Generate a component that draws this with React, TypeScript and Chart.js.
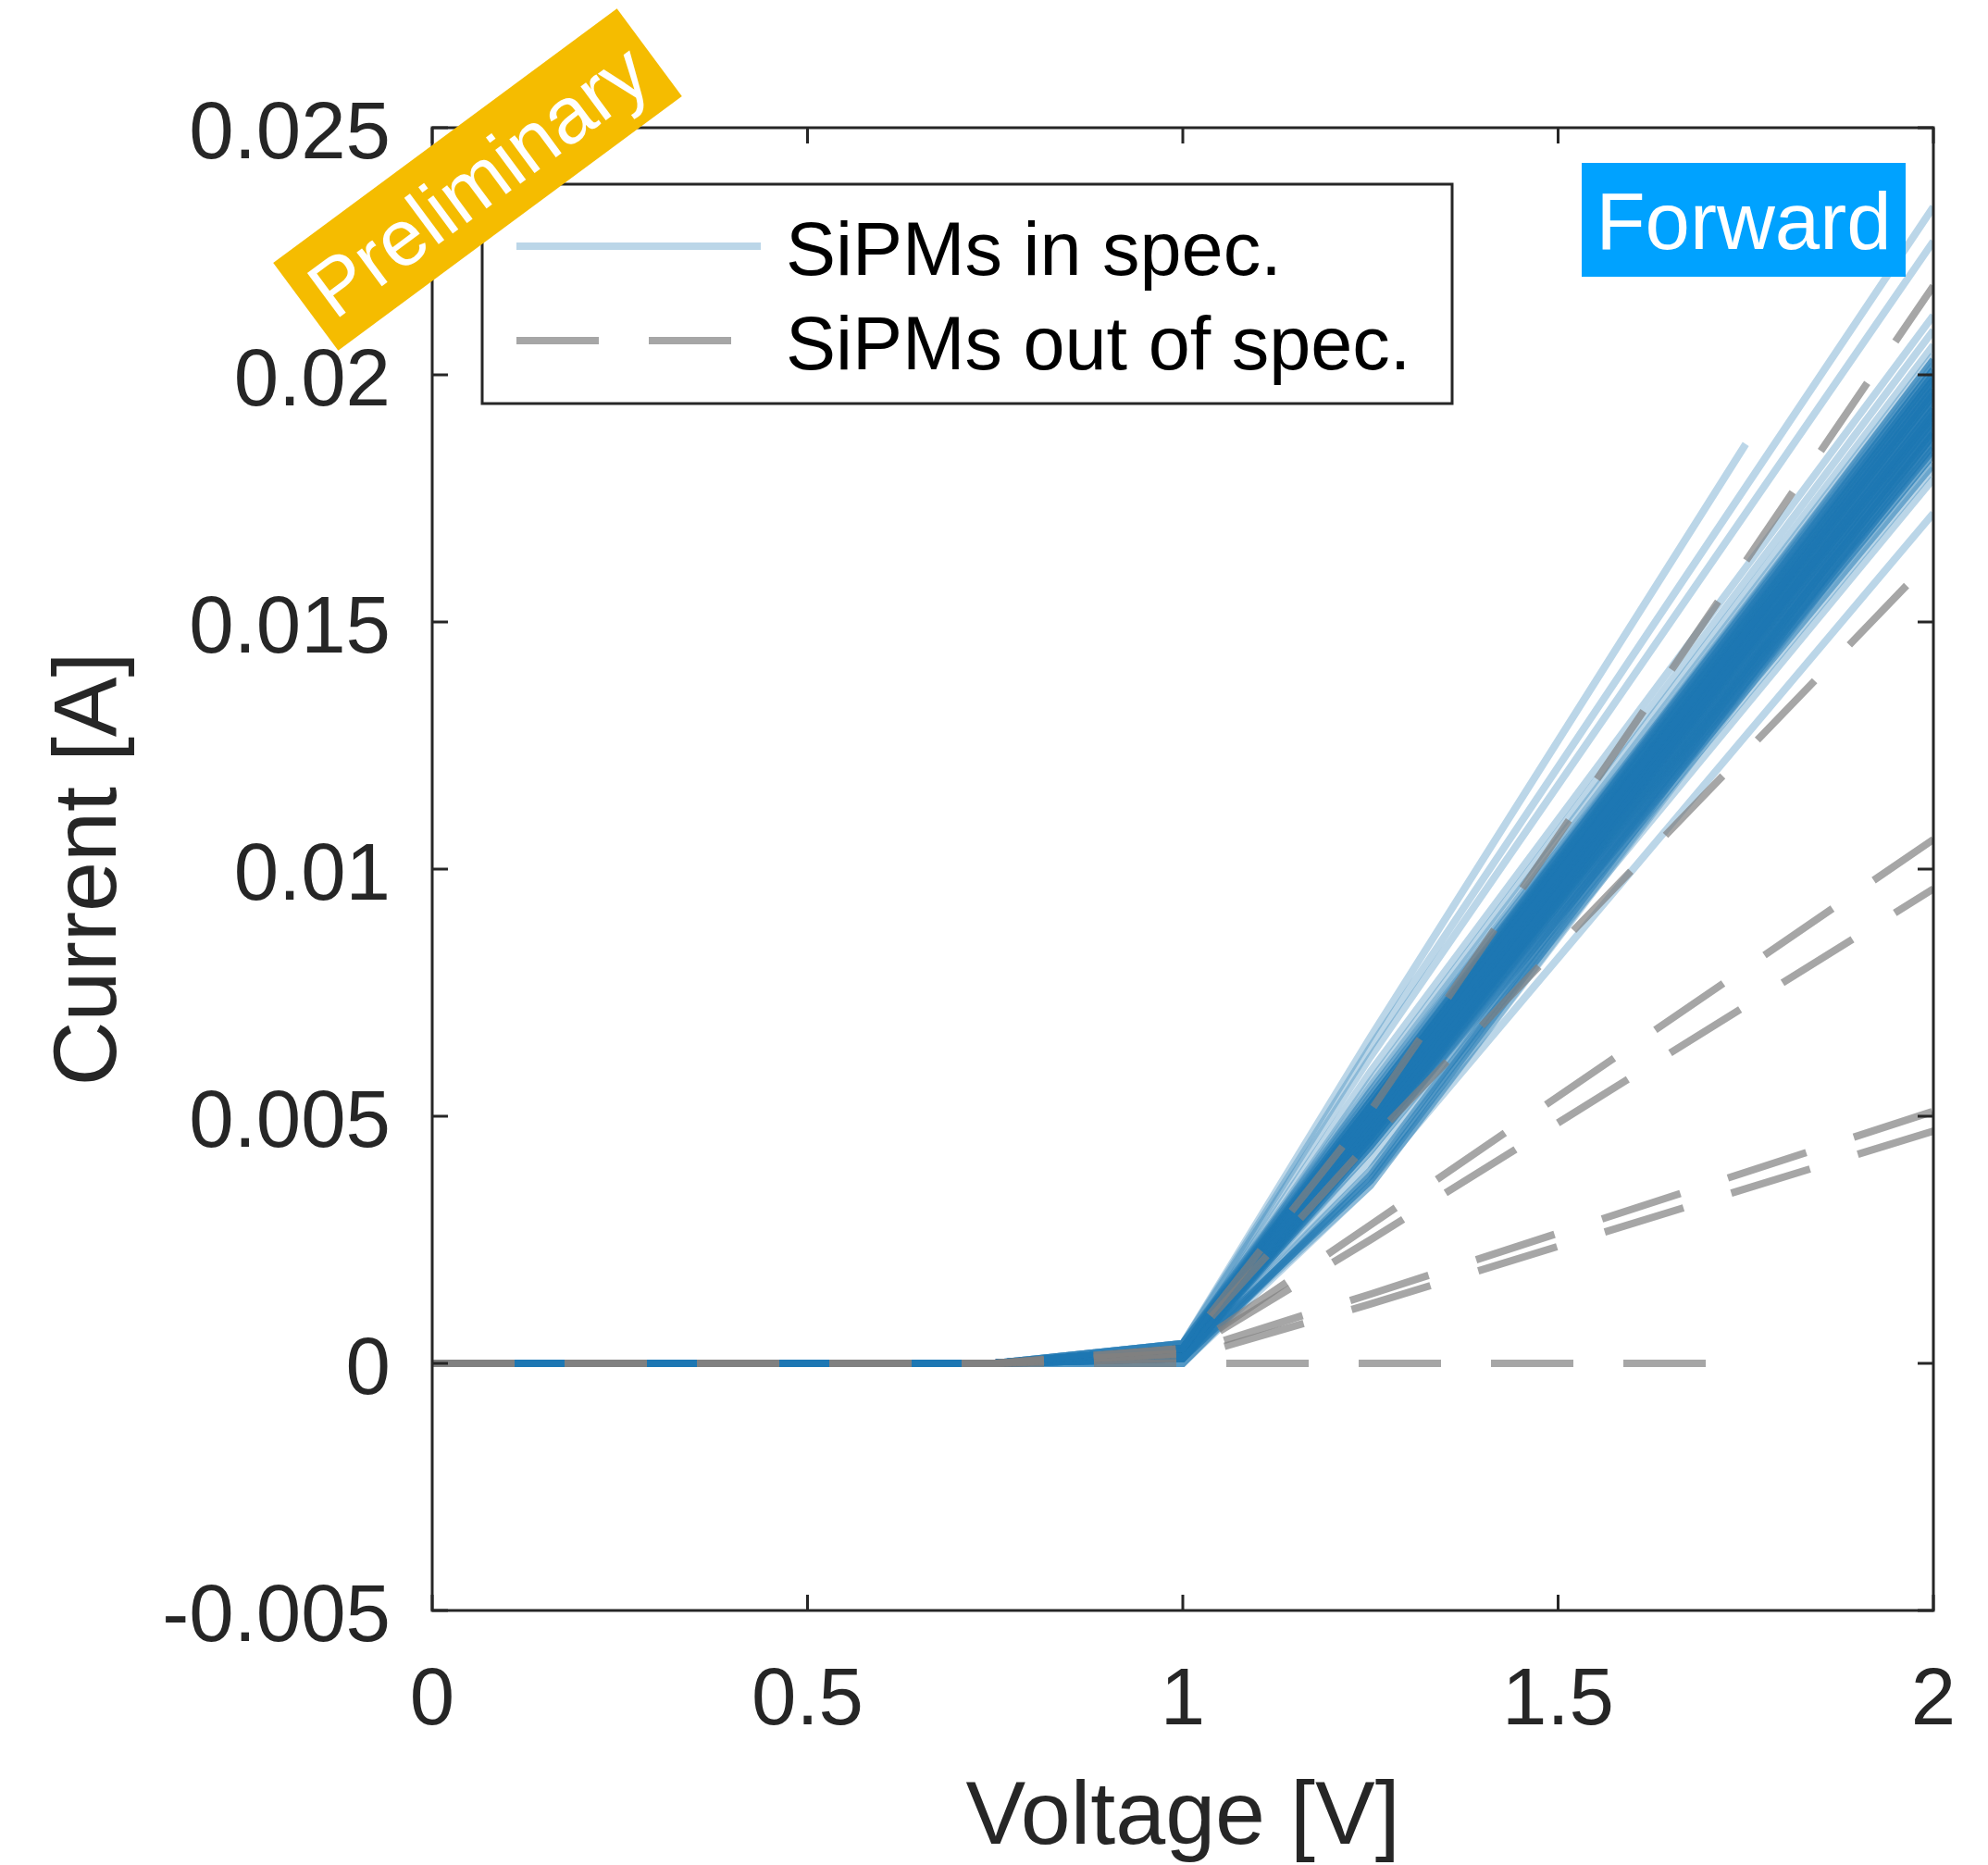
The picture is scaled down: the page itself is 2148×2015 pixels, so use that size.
import React, { useEffect, useRef } from 'react';
import { Chart, registerables } from 'chart.js';

Chart.register(...registerables);

// Sweep voltages [V]; every SiPM sits at 0 A up to 0.75 V.
const VOLTAGE = [0, 0.75, 1.0, 1.25, 2.0];
const VOLTAGE_TO_1V75 = [0, 0.75, 1.0, 1.25, 1.75];

// SiPMs in spec: forward current [A] at 1.00 V, 1.25 V and 2.00 V
const IN_SPEC_1V00 = [
  0.0004, 0.0004, 0.0003, 0.0003, 0.0003, 0.0001, 0.0002,
  0.0000, 0.0001, 0.0000, 0.0001, 0.0000, 0.0001, 0.0000, 0.0001,
  0.0004, 0.0004, 0.0003, 0.0004, 0.0003, 0.0003, 0.0003, 0.0004, 0.0003, 0.0003,
  0.0002, 0.0003, 0.0003, 0.0002, 0.0003, 0.0002, 0.0002, 0.0003, 0.0002, 0.0002,
  0.0002, 0.0003, 0.0002, 0.0002, 0.0001, 0.0002, 0.0002, 0.0001, 0.0002, 0.0001,
  0.0001, 0.0002, 0.0001, 0.0001, 0.0003, 0.0002, 0.0003, 0.0002, 0.0002, 0.0003,
  0.0002, 0.0002, 0.0001, 0.0002, 0.0003, 0.0003, 0.0002, 0.0002, 0.0001, 0.0002,
  0.0003, 0.0002, 0.0002, 0.0001, 0.0003, 0.0002,
  0.0003, 0.0002, 0.0003, 0.0002, 0.0003, 0.0002, 0.0002, 0.0003, 0.0002, 0.0003,
  0.0002, 0.0003, 0.0002, 0.0002, 0.0003, 0.0002, 0.0003, 0.0002, 0.0002, 0.0003,
  0.0002, 0.0002, 0.0003, 0.0002, 0.0003, 0.0002, 0.0002, 0.0003, 0.0002, 0.0002,
];
const IN_SPEC_1V25 = [
  0.0064, 0.0062, 0.0059, 0.0057, 0.0056, 0.0037, 0.0041,
  0.0038, 0.0037, 0.0036, 0.0039, 0.0038, 0.0036, 0.0039, 0.0037,
  0.0055, 0.0054, 0.0055, 0.0053, 0.0054, 0.0052, 0.0053, 0.0052, 0.0051, 0.0052,
  0.0050, 0.0051, 0.0050, 0.0049, 0.0050, 0.0049, 0.0048, 0.0049, 0.0048, 0.0047,
  0.0047, 0.0048, 0.0046, 0.0047, 0.0046, 0.0045, 0.0046, 0.0045, 0.0044, 0.0045,
  0.0044, 0.0043, 0.0043, 0.0044, 0.0051, 0.0049, 0.0050, 0.0048, 0.0047, 0.0049,
  0.0046, 0.0046, 0.0045, 0.0047, 0.0052, 0.0053, 0.0048, 0.0050, 0.0044, 0.0045,
  0.0051, 0.0049, 0.0047, 0.0046, 0.0052, 0.0048,
  0.0052, 0.0050, 0.0053, 0.0049, 0.0051, 0.0048, 0.0047, 0.0052, 0.0046, 0.0050,
  0.0049, 0.0051, 0.0047, 0.0048, 0.0053, 0.0046, 0.0050, 0.0049, 0.0048, 0.0051,
  0.0047, 0.0045, 0.0052, 0.0049, 0.0050, 0.0048, 0.0046, 0.0051, 0.0047, 0.0049,
];
const IN_SPEC_2V00 = [
  0.0234, 0.0227, 0.0212, 0.0209, 0.0206, 0.0172, 0.0179,
  0.0190, 0.0188, 0.0186, 0.0191, 0.0189, 0.0187, 0.0190, 0.0188,
  0.0204, 0.0203, 0.0201, 0.0203, 0.0200, 0.0201, 0.0199, 0.0200, 0.0197, 0.0199,
  0.0197, 0.0196, 0.0195, 0.0196, 0.0193, 0.0195, 0.0193, 0.0192, 0.0191, 0.0192,
  0.0189, 0.0191, 0.0188, 0.0189, 0.0186, 0.0188, 0.0185, 0.0186, 0.0184, 0.0185,
  0.0182, 0.0184, 0.0181, 0.0182, 0.0200, 0.0197, 0.0196, 0.0195, 0.0193, 0.0192,
  0.0191, 0.0189, 0.0188, 0.0186, 0.0203, 0.0201, 0.0196, 0.0199, 0.0185, 0.0184,
  0.0199, 0.0193, 0.0191, 0.0188, 0.0197, 0.0192,
  0.0200, 0.0197, 0.0201, 0.0195, 0.0198, 0.0194, 0.0192, 0.0199, 0.0190, 0.0196,
  0.0194, 0.0197, 0.0191, 0.0193, 0.0202, 0.0189, 0.0196, 0.0193, 0.0192, 0.0198,
  0.0190, 0.0187, 0.0199, 0.0195, 0.0197, 0.0193, 0.0188, 0.0198, 0.0191, 0.0194,
];
// In-spec SiPM whose sweep stops at 1.75 V
const IN_SPEC_SHORT = [0, 0, 0.0004, 0.0066, 0.0186];

// SiPMs out of spec: current [A] at 1.00 V, 1.25 V and 2.00 V
const OUT_SPEC_1V00 = [0.0003, 0.0003, 0.0002, 0.0002, 0.0002, 0.0001];
const OUT_SPEC_1V25 = [0.0051, 0.0045, 0.0028, 0.0025, 0.0014, 0.0012];
const OUT_SPEC_2V00 = [0.0218, 0.0163, 0.0106, 0.0096, 0.0051, 0.0047];
// Out-of-spec SiPM with no forward current, sweep stops at 1.75 V
const OUT_SPEC_SHORT = [0, 0, 0, 0, 0];

const X_TICKS = [0, 0.5, 1, 1.5, 2];
const X_TICK_LABELS = ['0', '0.5', '1', '1.5', '2'];
const Y_TICKS = [-0.005, 0, 0.005, 0.01, 0.015, 0.02, 0.025];
const Y_TICK_LABELS = ['-0.005', '0', '0.005', '0.01', '0.015', '0.02', '0.025'];

const X_TITLE = 'Voltage [V]';
const Y_TITLE = 'Current [A]';
const LEGEND_LABELS = ['SiPMs in spec.', 'SiPMs out of spec.'];
const TAG_TEXT = 'Forward';
const BADGE_TEXT = 'Preliminary';

const W = 2148;
const H = 2015;
const FONT = '"Liberation Sans", Arial, Helvetica, sans-serif';
const AXIS_COLOR = '#262626';
const IN_SPEC_COLOR = 'rgba(31, 119, 180, 0.3)';
const OUT_SPEC_COLOR = 'rgba(128, 128, 128, 0.7)';
const LINE_WIDTH = 8;
const DASH = [89, 54];
const TICK_LEN = 17;

function points(voltages: number[], currents: number[]) {
  return voltages.map((v, i) => ({ x: v, y: currents[i] }));
}

function buildDatasets() {
  const sets: any[] = [];
  const base = {
    borderWidth: LINE_WIDTH,
    pointRadius: 0,
    pointHoverRadius: 0,
    tension: 0,
    fill: false,
    clip: 0,
  };
  OUT_SPEC_2V00.forEach((end, i) => {
    sets.push({
      ...base,
      label: LEGEND_LABELS[1],
      data: points(VOLTAGE, [0, 0, OUT_SPEC_1V00[i], OUT_SPEC_1V25[i], end]),
      borderColor: OUT_SPEC_COLOR,
      borderDash: DASH,
      order: 0,
    });
  });
  sets.push({
    ...base,
    label: LEGEND_LABELS[1],
    data: points(VOLTAGE_TO_1V75, OUT_SPEC_SHORT),
    borderColor: OUT_SPEC_COLOR,
    borderDash: DASH,
    order: 0,
  });
  IN_SPEC_2V00.forEach((end, i) => {
    sets.push({
      ...base,
      label: LEGEND_LABELS[0],
      data: points(VOLTAGE, [0, 0, IN_SPEC_1V00[i], IN_SPEC_1V25[i], end]),
      borderColor: IN_SPEC_COLOR,
      order: 1,
    });
  });
  sets.push({
    ...base,
    label: LEGEND_LABELS[0],
    data: points(VOLTAGE_TO_1V75, IN_SPEC_SHORT),
    borderColor: IN_SPEC_COLOR,
    order: 1,
  });
  return sets;
}

// Box, inward ticks, tick labels, titles, legend and tags drawn over the lines
const framePlugin = {
  id: 'matlabFrame',
  afterDatasetsDraw(chart: any) {
    const { ctx, chartArea, scales } = chart;
    const { left, right, top, bottom } = chartArea;
    const xs = scales.x;
    const ys = scales.y;
    ctx.save();

    ctx.strokeStyle = AXIS_COLOR;
    ctx.lineWidth = 3;
    ctx.setLineDash([]);
    ctx.strokeRect(left, top, right - left, bottom - top);
    ctx.beginPath();
    X_TICKS.forEach((v) => {
      const px = xs.getPixelForValue(v);
      ctx.moveTo(px, bottom);
      ctx.lineTo(px, bottom - TICK_LEN);
      ctx.moveTo(px, top);
      ctx.lineTo(px, top + TICK_LEN);
    });
    Y_TICKS.forEach((v) => {
      const py = ys.getPixelForValue(v);
      ctx.moveTo(left, py);
      ctx.lineTo(left + TICK_LEN, py);
      ctx.moveTo(right, py);
      ctx.lineTo(right - TICK_LEN, py);
    });
    ctx.stroke();

    ctx.fillStyle = AXIS_COLOR;
    ctx.font = `87px ${FONT}`;
    ctx.textBaseline = 'alphabetic';
    ctx.textAlign = 'center';
    X_TICKS.forEach((v, i) => {
      ctx.fillText(X_TICK_LABELS[i], xs.getPixelForValue(v), bottom + 123);
    });
    ctx.textAlign = 'right';
    Y_TICKS.forEach((v, i) => {
      ctx.fillText(Y_TICK_LABELS[i], left - 45, ys.getPixelForValue(v) + 33);
    });

    ctx.font = `97px ${FONT}`;
    ctx.textAlign = 'center';
    ctx.fillText(X_TITLE, (left + right) / 2, 1992);
    ctx.save();
    ctx.translate(125, (top + bottom) / 2);
    ctx.rotate(-Math.PI / 2);
    ctx.fillText(Y_TITLE, 0, 0);
    ctx.restore();

    // legend
    const lx = 521, ly = 199, lw = 1048, lh = 237;
    ctx.fillStyle = '#ffffff';
    ctx.fillRect(lx, ly, lw, lh);
    ctx.strokeStyle = AXIS_COLOR;
    ctx.lineWidth = 3;
    ctx.strokeRect(lx, ly, lw, lh);
    ctx.lineWidth = LINE_WIDTH;
    ctx.lineCap = 'butt';
    ctx.strokeStyle = IN_SPEC_COLOR;
    ctx.beginPath();
    ctx.moveTo(558, 266);
    ctx.lineTo(822, 266);
    ctx.stroke();
    ctx.strokeStyle = OUT_SPEC_COLOR;
    ctx.setLineDash(DASH);
    ctx.beginPath();
    ctx.moveTo(558, 368);
    ctx.lineTo(822, 368);
    ctx.stroke();
    ctx.setLineDash([]);
    ctx.fillStyle = '#000000';
    ctx.font = `81px ${FONT}`;
    ctx.textAlign = 'left';
    ctx.fillText(LEGEND_LABELS[0], 849, 297);
    ctx.fillText(LEGEND_LABELS[1], 849, 399);

    // direction tag
    ctx.fillStyle = '#00A2FF';
    ctx.fillRect(1709, 176, 350, 123);
    ctx.fillStyle = '#ffffff';
    ctx.font = `87px ${FONT}`;
    ctx.textAlign = 'center';
    ctx.fillText(TAG_TEXT, 1884, 269);

    // status badge
    ctx.save();
    ctx.translate(516, 194);
    ctx.rotate((-36.5 * Math.PI) / 180);
    ctx.fillStyle = '#F5BC00';
    ctx.fillRect(-231, -59, 462, 118);
    ctx.fillStyle = '#ffffff';
    ctx.font = `86px ${FONT}`;
    ctx.textAlign = 'center';
    ctx.fillText(BADGE_TEXT, 0, 31);
    ctx.restore();

    ctx.restore();
  },
};

export default function App() {
  const canvasRef = useRef<HTMLCanvasElement | null>(null);

  useEffect(() => {
    document.body.style.margin = '0';
    document.body.style.overflow = 'hidden';
    const canvas = canvasRef.current;
    if (!canvas) return;
    const chart = new Chart(canvas, {
      type: 'line',
      data: { datasets: buildDatasets() },
      options: {
        animation: false,
        responsive: false,
        devicePixelRatio: 1,
        events: [],
        layout: { padding: { left: 0, top: 138, right: 59, bottom: 0 } },
        plugins: {
          legend: { display: false },
          tooltip: { enabled: false },
          title: { display: false },
        },
        scales: {
          x: {
            type: 'linear',
            min: 0,
            max: 2,
            grid: { display: false },
            border: { display: false },
            ticks: { display: false },
            afterBuildTicks: (s: any) => {
              s.ticks = X_TICKS.map((v) => ({ value: v }));
            },
            afterFit: (s: any) => {
              s.height = H - 1740;
            },
          },
          y: {
            type: 'linear',
            min: -0.005,
            max: 0.025,
            grid: { display: false },
            border: { display: false },
            ticks: { display: false },
            afterBuildTicks: (s: any) => {
              s.ticks = Y_TICKS.map((v) => ({ value: v }));
            },
            afterFit: (s: any) => {
              s.width = 467;
            },
          },
        },
      } as any,
      plugins: [framePlugin],
    });
    return () => chart.destroy();
  }, []);

  return (
    <canvas
      ref={canvasRef}
      width={W}
      height={H}
      style={{ display: 'block', width: W, height: H }}
    />
  );
}
